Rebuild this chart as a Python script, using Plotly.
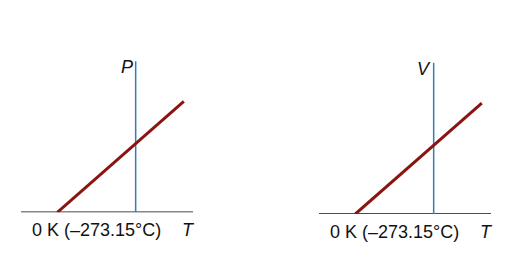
import plotly.graph_objects as go

# Data (temperature in °C, quantity relative to its value at 0 °C)
t_axis = [-400, 200]            # extent of the T axis
t_zero_kelvin = -273.15         # absolute zero in °C
t_line_end = 168                # upper end of the plotted straight line
y_top = 2.2                     # top of the vertical (P / V) axis
panels = ["P", "V"]
zero_label = "0 K (–273.15°C)"
t_label = "T"

W, H = 531, 265
RED = "#8a1410"
BLUE = "#2f7fb5"

fig = go.Figure()

# pixel layout of each panel: x pixel left/right of T axis, y pixel of baseline
px_left = [21, 319]
px_right = [193, 491]
px_base = [212.3, 214]
px_unit = 68.7  # pixels per unit in y
y_range = [0, 2.4]

for i, name in enumerate(panels):
    xa = "x" if i == 0 else f"x{i+1}"
    ya = "y" if i == 0 else f"y{i+1}"
    # T axis
    fig.add_trace(go.Scatter(x=t_axis, y=[0, 0], mode="lines",
                             line=dict(color="#111111", width=1.6),
                             xaxis=xa, yaxis=ya, hoverinfo="skip", showlegend=False))
    # vertical P/V axis at 0 °C
    fig.add_trace(go.Scatter(x=[0, 0], y=[0, y_top], mode="lines",
                             line=dict(color=BLUE, width=1.5),
                             xaxis=xa, yaxis=ya, hoverinfo="skip", showlegend=False))
    # linear relation, proportional to absolute temperature
    ys = [(t - t_zero_kelvin) / (-t_zero_kelvin) for t in (t_zero_kelvin, t_line_end)]
    fig.add_trace(go.Scatter(x=[t_zero_kelvin, t_line_end], y=ys, mode="lines",
                             line=dict(color=RED, width=3),
                             xaxis=xa, yaxis=ya, hoverinfo="skip", showlegend=False))

    d0 = px_left[i] / W
    d1 = px_right[i] / W
    yb = (H - px_base[i]) / H
    yt = yb + (y_range[1] * px_unit) / H
    axkw = dict(showgrid=False, zeroline=False, showticklabels=False, ticks="",
                showline=False, fixedrange=True)
    lay_x = "xaxis" if i == 0 else f"xaxis{i+1}"
    lay_y = "yaxis" if i == 0 else f"yaxis{i+1}"
    fig.update_layout(**{
        lay_x: dict(domain=[d0, d1], range=t_axis, anchor=ya, **axkw),
        lay_y: dict(domain=[yb, yt], range=y_range, anchor=xa, **axkw),
    })

    # labels
    fig.add_annotation(x=-3, y=y_top, xref=xa, yref=ya, text=f"<i>{name}</i>",
                       showarrow=False, xanchor="right", yanchor="middle", yshift=-6,
                       font=dict(family="Liberation Sans, Arial", size=18, color="#111"))
    fig.add_annotation(x=-136, y=0, xref=xa, yref=ya, text=zero_label,
                       showarrow=False, xanchor="center", yanchor="middle", yshift=-18,
                       font=dict(family="Liberation Sans, Arial", size=18, color="#111"))
    fig.add_annotation(x=185, y=0, xref=xa, yref=ya, text=f"<i>{t_label}</i>",
                       showarrow=False, xanchor="center", yanchor="middle", yshift=-18,
                       font=dict(family="Liberation Sans, Arial", size=18, color="#111"))

fig.update_layout(width=W, height=H, margin=dict(l=0, r=0, t=0, b=0),
                  paper_bgcolor="white", plot_bgcolor="rgba(0,0,0,0)")

fig.write_html("out.html")
